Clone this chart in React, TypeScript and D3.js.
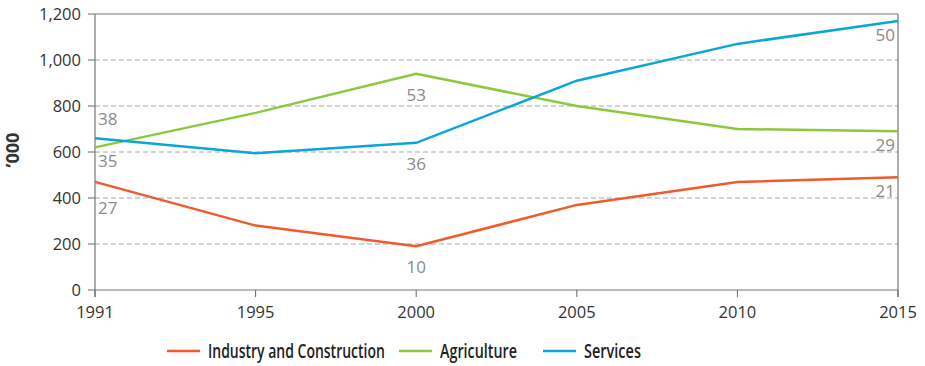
import React, { useLayoutEffect, useRef, useState } from "react";
import * as d3 from "d3";

const years = ["1991", "1995", "2000", "2005", "2010", "2015"];
const industry = [470, 280, 190, 370, 470, 490];
const agriculture = [620, 770, 940, 800, 700, 690];
const services = [660, 595, 640, 910, 1070, 1170];
const yTicks = [0, 200, 400, 600, 800, 1000, 1200];

const seriesNames = ["Industry and Construction", "Agriculture", "Services"];
const seriesColors = ["#ef5a2e", "#8dc63f", "#0aa6d5"];

// share labels: [series index, year index, text]
const shareSeries = [1, 0, 2, 1, 0, 2, 1, 0, 2];
const shareYears = [0, 0, 0, 2, 2, 2, 5, 5, 5];
const shareText = ["35", "27", "38", "53", "10", "36", "29", "21", "50"];

export default function App() {
  const W = 925, H = 366;
  const left = 95, right = 898, top = 14, bottom = 290;
  const x = d3.scalePoint<string>().domain(years).range([left, right]);
  const y = d3.scaleLinear().domain([0, 1200]).range([bottom, top]);
  const data = [industry, agriculture, services];
  const line = d3
    .line<number>()
    .x((_, i) => x(years[i]) as number)
    .y((d) => y(d));

  const labelPos = (k: number) => {
    const s = shareSeries[k];
    const yi = shareYears[k];
    const v = data[s][yi];
    const px = x(years[yi]) as number;
    const py = y(v);
    let dy = 0;
    let anchor: "start" | "middle" | "end" = "middle";
    let dx = 0;
    if (yi === 0) {
      anchor = "start";
      dx = 3;
      if (s === 2) dy = -19;
      else if (s === 1) dy = 14;
      else dy = 26;
    } else if (yi === 2) {
      anchor = "middle";
      dy = 21;
    } else {
      anchor = "end";
      dx = -3;
      dy = 14;
    }
    return { px: px + dx, py: py + dy, anchor };
  };

  const font = "'Open Sans', Lato, sans-serif";
  const legendFont = "'Open Sans', sans-serif";
  const legendX = [167, 399, 543];
  const legendLen = [177, 77, 57];

  const textRefs = useRef<(SVGTextElement | null)[]>([]);
  const [scales, setScales] = useState<number[]>([1, 1, 1]);
  useLayoutEffect(() => {
    const s = textRefs.current.map((el, i) => {
      if (!el) return 1;
      const len = el.getComputedTextLength();
      return len > 0 ? legendLen[i] / len : 1;
    });
    setScales(s);
  }, []);

  return (
    <svg
      width={W}
      height={H}
      style={{ position: "absolute", left: 0, top: 0, background: "#fff" }}
      fontFamily={font}
    >
      {yTicks.map((t) => (
        <g key={t}>
          {t > 0 && t < 1200 && (
            <line
              x1={left}
              x2={right}
              y1={y(t)}
              y2={y(t)}
              stroke="#a8a8a8"
              strokeWidth={1}
              strokeDasharray="5,3"
            />
          )}
          <line x1={left - 7} x2={left} y1={y(t)} y2={y(t)} stroke="#666" strokeWidth={1} />
          <text
            x={left - 14}
            y={y(t)}
            dy="0.35em"
            textAnchor="end"
            fontSize={16.5}
            fill="#333"
          >
            {d3.format(",")(t)}
          </text>
        </g>
      ))}
      <line x1={left} x2={right} y1={top} y2={top} stroke="#777" strokeWidth={1.2} />
      <line x1={right} x2={right} y1={top} y2={bottom + 7} stroke="#777" strokeWidth={1.2} />
      <line x1={left} x2={left} y1={top} y2={bottom + 7} stroke="#777" strokeWidth={1.2} />
      <line x1={left} x2={right} y1={bottom} y2={bottom} stroke="#777" strokeWidth={1.2} />
      {years.map((yr) => (
        <g key={yr}>
          <line
            x1={x(yr)}
            x2={x(yr)}
            y1={bottom}
            y2={bottom + 7}
            stroke="#666"
            strokeWidth={1}
          />
          <text x={x(yr)} y={bottom + 28} textAnchor="middle" fontSize={16.5} fill="#333">
            {yr}
          </text>
        </g>
      ))}
      <text
        transform={`translate(19,150) rotate(-90)`}
        textAnchor="middle"
        fontSize={18}
        fontWeight="bold"
        fill="#333"
      >
        ’000
      </text>
      {data.map((d, i) => (
        <path
          key={i}
          d={line(d) || ""}
          fill="none"
          stroke={seriesColors[i]}
          strokeWidth={2.5}
        />
      ))}
      {shareText.map((t, k) => {
        const p = labelPos(k);
        return (
          <text
            key={k}
            x={p.px}
            y={p.py}
            dy="0.35em"
            textAnchor={p.anchor}
            fontSize={17}
            fill="#8a8a8a"
          >
            {t}
          </text>
        );
      })}
      {seriesNames.map((n, i) => (
        <g key={n} transform={`translate(${legendX[i]},351)`}>
          <line x1={0} x2={33} y1={0} y2={0} stroke={seriesColors[i]} strokeWidth={2.5} />
          <text
            ref={(el) => {
              textRefs.current[i] = el;
            }}
            transform={`translate(41,0) scale(${scales[i]},1)`}
            x={0}
            y={0}
            dy="0.35em"
            fontSize={19}
            fontWeight={600}
            fill="#222"
            fontFamily={legendFont}
          >
            {n}
          </text>
        </g>
      ))}
    </svg>
  );
}
